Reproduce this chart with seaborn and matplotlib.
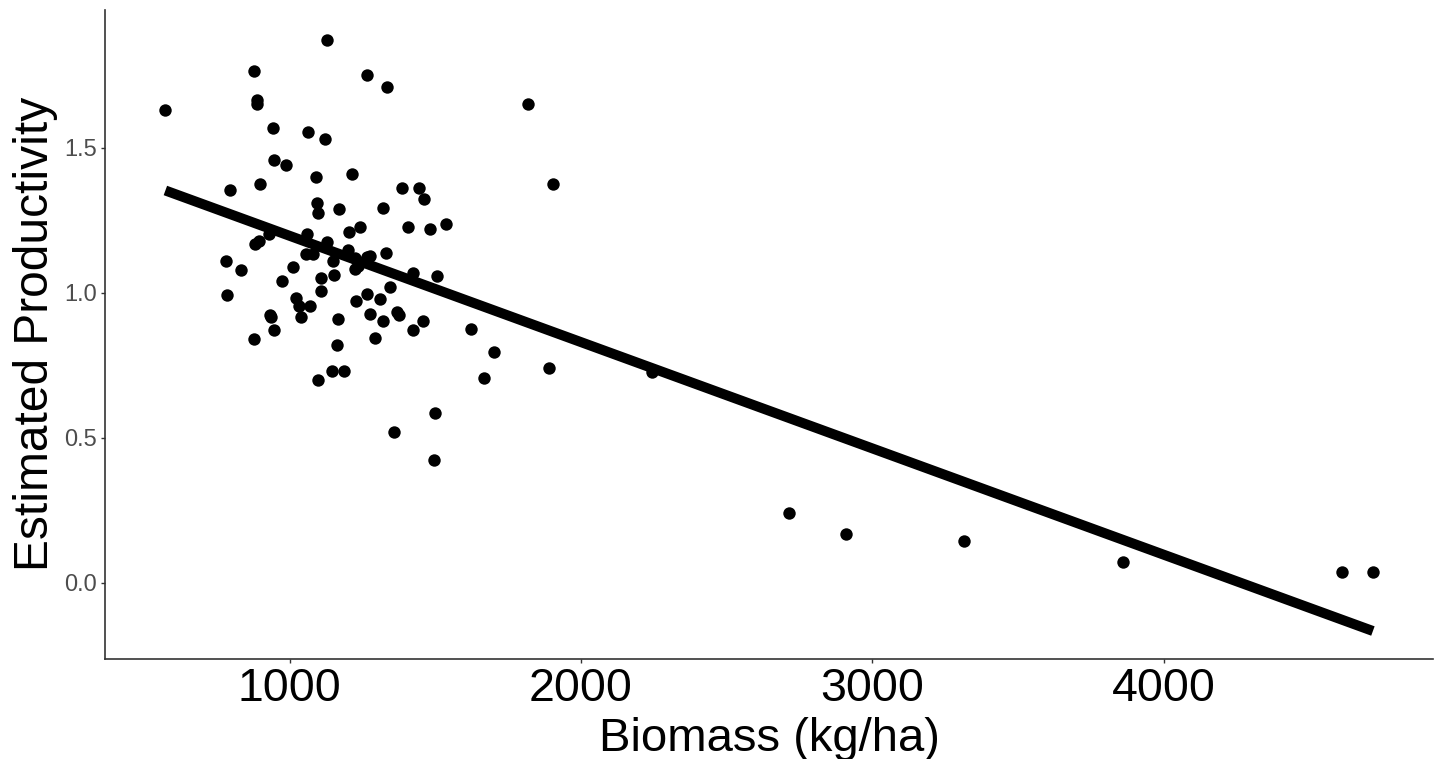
import pandas as pd
import numpy as np
import matplotlib.pyplot as plt
import seaborn as sns

# biomass (kg/ha) and estimated productivity
biomass = [
    1130, 877, 888, 888, 574, 1266, 1334, 942, 1064, 1122, 945, 988, 1092, 1216,
    897, 797, 1386, 1445, 1463, 1819, 1904, 1537,
    1094, 1099, 1170, 1320, 1059, 1205, 1243, 1408, 1483, 1129, 882, 894, 930,
    1056, 1082, 1202, 1225, 1266, 1277, 1148, 1332, 1225, 1236, 1425, 1506,
    1107, 1151, 783, 834, 1012, 974, 1107, 1345, 785, 1022, 1266, 1309, 1229,
    1034, 1069, 1039, 934, 936, 945, 877, 1368, 1376, 1277, 1320, 1458, 1425,
    1165, 1622, 1294, 1164, 1702,
    1145, 1188, 1096, 1666, 1500, 1360, 1497,
    1889, 2244, 2715, 2909, 3315, 3858, 4612, 4717,
]
productivity = [
    1.870, 1.764, 1.666, 1.649, 1.629, 1.752, 1.709, 1.569, 1.554, 1.531, 1.456,
    1.440, 1.400, 1.408, 1.376, 1.353, 1.360, 1.360, 1.323, 1.651, 1.376, 1.236,
    1.308, 1.274, 1.289, 1.293, 1.204, 1.210, 1.228, 1.228, 1.221, 1.175, 1.167,
    1.179, 1.204, 1.132, 1.132, 1.148, 1.121, 1.124, 1.127, 1.110, 1.138, 1.081,
    1.093, 1.067, 1.056, 1.050, 1.061, 1.110, 1.079, 1.090, 1.041, 1.007, 1.018,
    0.993, 0.983, 0.995, 0.978, 0.970, 0.955, 0.955, 0.915, 0.923, 0.915, 0.871,
    0.842, 0.932, 0.923, 0.926, 0.901, 0.901, 0.872, 0.910, 0.875, 0.844, 0.819,
    0.794,
    0.731, 0.729, 0.700, 0.705, 0.584, 0.519, 0.424,
    0.740, 0.728, 0.241, 0.167, 0.144, 0.071, 0.037, 0.037,
]

df = pd.DataFrame({'Biomass': biomass, 'Productivity': productivity})

sns.set_style('ticks')
plt.rcParams['font.family'] = ['Liberation Sans', 'DejaVu Sans']

fig = plt.figure(figsize=(14.39, 7.59), dpi=100)
ax = fig.add_axes([0.073, 0.132, 0.923, 0.855])

sns.regplot(x='Biomass', y='Productivity', data=df, ci=None, ax=ax,
            scatter_kws={'s': 80, 'color': 'black', 'linewidths': 0, 'alpha': 1},
            line_kws={'color': 'black', 'linewidth': 7.2, 'solid_capstyle': 'butt'})

ax.set_xlim(367, 4924)
ax.set_ylim(-0.262, 1.975)
ax.set_xticks([1000, 2000, 3000, 4000])
ax.set_yticks([0.0, 0.5, 1.0, 1.5])
ax.set_yticklabels(['0.0', '0.5', '1.0', '1.5'])

ax.set_xlabel('Biomass (kg/ha)', fontsize=34, color='black', labelpad=4)
ax.set_ylabel('Estimated Productivity', fontsize=34.5, color='black', labelpad=4)
ax.tick_params(axis='x', labelsize=33.5, labelcolor='black', color='#333333',
               length=3, width=1, pad=3)
ax.tick_params(axis='y', labelsize=17, labelcolor='#4D4D4D', color='#333333',
               length=3, width=1, pad=3)

sns.despine(ax=ax)
for side in ['left', 'bottom']:
    ax.spines[side].set_color('#333333')
    ax.spines[side].set_linewidth(1.2)

plt.savefig('out.png', dpi=100)
